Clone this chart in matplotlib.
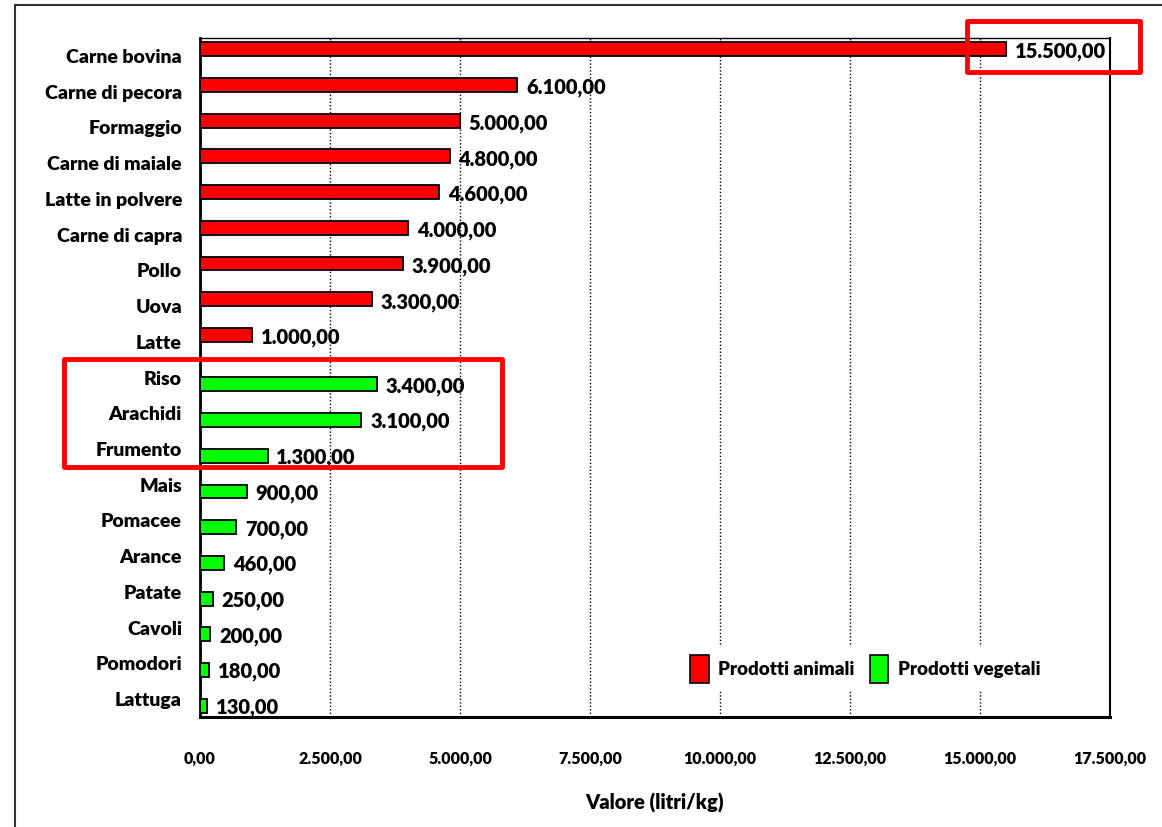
import matplotlib.pyplot as plt
import numpy as np
from matplotlib.patches import Rectangle, Patch
from matplotlib.ticker import FuncFormatter

# Impronta idrica dei prodotti (litri per kg)
animal_names = ["Carne bovina", "Carne di pecora", "Formaggio", "Carne di maiale",
                "Latte in polvere", "Carne di capra", "Pollo", "Uova", "Latte"]
animal_values = [15500, 6100, 5000, 4800, 4600, 4000, 3900, 3300, 1000]
plant_names = ["Riso", "Arachidi", "Frumento", "Mais", "Pomacee", "Arance",
               "Patate", "Cavoli", "Pomodori", "Lattuga"]
plant_values = [3400, 3100, 1300, 900, 700, 460, 250, 200, 180, 130]
x_ticks = [0, 2500, 5000, 7500, 10000, 12500, 15000, 17500]

plt.rcParams['font.family'] = ['Lato', 'DejaVu Sans']
W8 = "heavy"

def it_fmt(v, pos=None):
    # formato italiano: punto per le migliaia, virgola per i decimali
    s = "{:,.2f}".format(v)
    return s.replace(",", "X").replace(".", ",").replace("X", ".")

names = animal_names + plant_names
n = len(names)
pos_animal = np.arange(len(animal_names))
pos_plant = np.arange(len(animal_names), n)

W, H = 1162, 827
fig = plt.figure(figsize=(W / 100, H / 100), dpi=100)
ax = fig.add_axes([200 / W, (H - 717) / H, 910 / W, 679 / H])

bh = 0.39
off = 0.19
red = "#ff0000"
green = "#00ff00"
ax.barh(pos_animal - off, animal_values, height=bh, color=red, edgecolor="black", linewidth=1.3, zorder=3)
ax.barh(pos_plant + off, plant_values, height=bh, color=green, edgecolor="black", linewidth=1.3, zorder=3)

for p, v in zip(pos_animal, animal_values):
    ax.text(v + 170, p - off + 0.08, it_fmt(v), va="center", ha="left", fontsize=14.5, fontweight=W8, zorder=4)
for p, v in zip(pos_plant, plant_values):
    ax.text(v + 170, p + off + 0.05, it_fmt(v), va="center", ha="left", fontsize=14.5, fontweight=W8, zorder=4)

ax.set_xlim(0, 17500)
ax.set_ylim(n - 0.5, -0.5)
ax.set_yticks(np.arange(n))
ax.set_yticklabels(names, fontsize=14, fontweight=W8)
ax.set_xticks(x_ticks)
ax.xaxis.set_major_formatter(FuncFormatter(it_fmt))
ax.tick_params(axis="x", length=0, pad=24, labelsize=11.5)
ax.tick_params(axis="y", length=0, pad=13)
for lbl in ax.get_xticklabels():
    lbl.set_fontweight(W8)
ax.set_xlabel("Valore (litri/kg)", fontsize=14.5, fontweight=W8, labelpad=19)

ax.grid(axis="x", linestyle=(0, (1, 1.5)), color="black", linewidth=1, zorder=0)
ax.spines["left"].set_linewidth(2)
ax.spines["bottom"].set_linewidth(2.2)
ax.spines["top"].set_linewidth(1)
ax.spines["right"].set_linewidth(1.5)

handles = [Patch(facecolor=red, edgecolor="black", linewidth=1.2, label="Prodotti animali"),
           Patch(facecolor=green, edgecolor="black", linewidth=1.2, label="Prodotti vegetali")]
leg = ax.legend(handles=handles, loc="center", bbox_to_anchor=(0.731, 0.071), ncol=2,
                frameon=True, framealpha=1, edgecolor="white", fancybox=False,
                handlelength=1.0, handleheight=1.9, handletextpad=0.5, columnspacing=0.8,
                prop={"weight": W8, "size": 13.5})
leg.set_zorder(5)

# cornice esterna
fig.patches.append(Rectangle((15 / W, -0.05), 1.2, 1 - 5 / H + 0.05, transform=fig.transFigure,
                             fill=False, edgecolor="#333333", linewidth=1.5))

# riquadri di evidenziazione
fig.patches.append(Rectangle((967 / W, (H - 72) / H), 173 / W, 51 / H, transform=fig.transFigure,
                             fill=False, edgecolor=red, linewidth=3.5, joinstyle="round"))
fig.patches.append(Rectangle((64 / W, (H - 467) / H), 438 / W, 108 / H, transform=fig.transFigure,
                             fill=False, edgecolor=red, linewidth=3.5, joinstyle="round"))

fig.savefig("out.png", dpi=100)
